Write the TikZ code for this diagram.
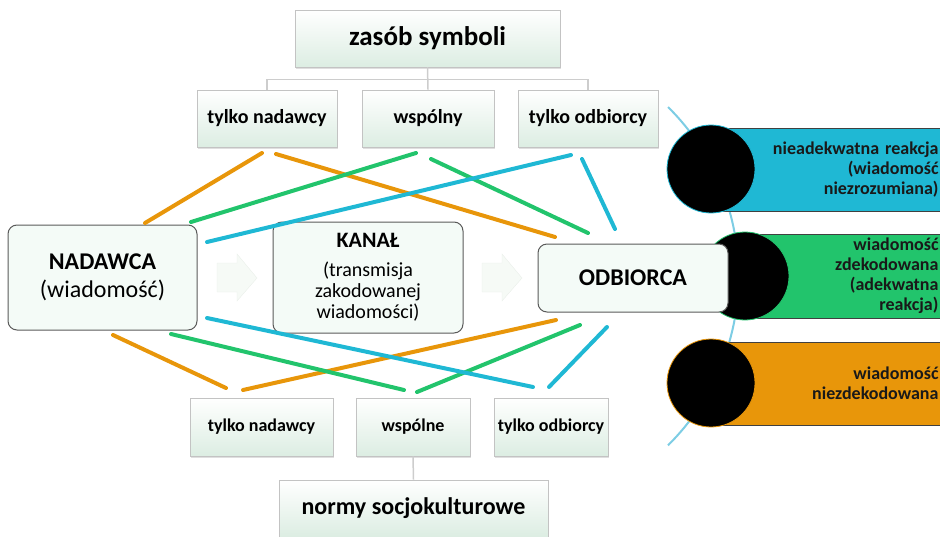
\documentclass[tikz,border=0pt]{standalone}
\usepackage{fontspec}
\setmainfont{Carlito}
\usetikzlibrary{shadows}
\definecolor{symcyan}{RGB}{31,184,212}
\definecolor{symgreen}{RGB}{34,196,108}
\definecolor{symorange}{RGB}{232,150,10}
\definecolor{boxbot}{RGB}{220,237,226}
\definecolor{boxline}{RGB}{195,195,195}
\definecolor{mainfill}{RGB}{244,251,247}
\definecolor{mainline}{RGB}{90,90,90}
\definecolor{treeline}{RGB}{205,205,205}
\definecolor{arcblue}{RGB}{125,205,228}
\definecolor{arrowfill}{RGB}{246,250,246}
\definecolor{arrowedge}{RGB}{234,239,234}

\begin{document}
\begin{tikzpicture}[x=1pt,y=-1pt,
  lvlbox/.style={draw=boxline, line width=0.8pt, top color=white, bottom color=boxbot,
    inner sep=0pt, align=center, text=black,
    drop shadow={shadow xshift=1pt, shadow yshift=-1.5pt, opacity=0.25}},
  mainbox/.style={draw=mainline, line width=1pt, fill=mainfill, rounded corners=9pt,
    inner sep=0pt, align=center},
  barbox/.style={draw={black!75}, line width=0.8pt, inner xsep=7pt, inner ysep=0pt,
    align=right, text=black!90, font=\bfseries\fontsize{18}{20}\selectfont},
  disc/.style={circle, fill=black, line width=0.8pt, minimum size=88pt, inner sep=0pt},
  link/.style={line width=4pt, line cap=round}]
\useasboundingbox (0,0) rectangle (940,536);

 % arc behind the outcomes
 \coordinate (arcA) at (668,107);
 \draw[arcblue, line width=2pt] (arcA) arc[start angle=-45.3, end angle=45.3, radius=238];

 % outcomes
 \node[barbox, fill=symcyan, minimum width=234pt, minimum height=83pt, text width=221pt]
   (bar1) at (828,169.5) {nieadekwatna reakcja\\(wiadomość\\niezrozumiana)};
 \node[barbox, fill=symgreen, minimum width=200pt, minimum height=84pt, text width=187pt]
   (bar2) at (845,276) {wiadomość\\zdekodowana\\(adekwatna\\reakcja)};
 \node[barbox, fill=symorange, minimum width=234pt, minimum height=83pt, text width=221pt]
   (bar3) at (828,383.5) {wiadomość\\niezdekodowana};
 \node[disc, draw=symcyan] (k1) at (711,169) {};
 \node[disc, draw=symgreen] (k2) at (745,276) {};
 \node[disc, draw=symorange] (k3) at (711,383) {};

 % zasob symboli
 \node[lvlbox, minimum width=265pt, minimum height=57pt, font=\bfseries\fontsize{27}{30}\selectfont]
   (zas) at (427.5,38.5) {zasób symboli};
 \node[lvlbox, minimum width=140pt, minimum height=57pt, font=\bfseries\fontsize{20}{24}\selectfont]
   (tn1) at (267,118.5) {tylko nadawcy};
 \node[lvlbox, minimum width=132pt, minimum height=57pt, font=\bfseries\fontsize{20}{24}\selectfont]
   (ws1) at (428,118.5) {wspólny};
 \node[lvlbox, minimum width=140pt, minimum height=57pt, font=\bfseries\fontsize{20}{24}\selectfont]
   (to1) at (588,118.5) {tylko odbiorcy};
 \draw[treeline, line width=1.5pt] (zas.south) -- ++(0,12) -| (tn1.north);
 \draw[treeline, line width=1.5pt] (zas.south) -- ++(0,12) -| (to1.north);
 \draw[treeline, line width=1.5pt] (zas.south) -- (ws1.north);

 % block arrows
 \fill[arrowfill, draw=arrowedge] (217,263) -- (237,263) -- (237,254) -- (257,278)
   -- (237,301) -- (237,292) -- (217,292) -- cycle;
 \fill[arrowfill, draw=arrowedge] (482,263) -- (502,263) -- (502,254) -- (522,278)
   -- (502,301) -- (502,292) -- (482,292) -- cycle;

 % chain
 \node[mainbox, minimum width=189pt, minimum height=105pt, font=\fontsize{24}{28}\selectfont]
   (nad) at (102.5,277.5) {\textbf{NADAWCA}\\(wiadomość)};
 \node[mainbox, minimum width=190pt, minimum height=111pt, font=\fontsize{20}{21}\selectfont]
   (kan) at (368,277.5) {{\bfseries\fontsize{22}{24}\selectfont KANAŁ}\\[8pt](transmisja\\zakodowanej\\wiadomości)};
 \node[mainbox, minimum width=190pt, minimum height=68pt, font=\bfseries\fontsize{24}{28}\selectfont]
   (odb) at (633,278) {ODBIORCA};

 % normy
 \node[lvlbox, minimum width=143pt, minimum height=58pt, font=\bfseries\fontsize{18}{22}\selectfont]
   (tn2) at (261.5,427) {tylko nadawcy};
 \node[lvlbox, minimum width=114pt, minimum height=58pt, font=\bfseries\fontsize{18}{22}\selectfont]
   (ws2) at (413,427) {wspólne};
 \node[lvlbox, minimum width=114pt, minimum height=58pt, font=\bfseries\fontsize{18}{22}\selectfont]
   (to2) at (551,427) {tylko odbiorcy};
 \node[lvlbox, minimum width=269pt, minimum height=57pt, font=\bfseries\fontsize{24}{28}\selectfont]
   (nor) at (413.5,508.5) {normy socjokulturowe};
 \draw[treeline, line width=1.5pt] (ws2.south) -- (nor.north);

 % orange
 \coordinate (oA) at (262,153);
 \coordinate (oB) at (145,223);
 \coordinate (oC) at (276,154);
 \coordinate (oD) at (555,237);
 \coordinate (oE) at (113,335);
 \coordinate (oF) at (226,388);
 \coordinate (oG) at (243,390);
 \coordinate (oH) at (556,320);
 \draw[link, symorange] (oA) -- (oB);
 \draw[link, symorange] (oC) -- (oD);
 \draw[link, symorange] (oE) -- (oF);
 \draw[link, symorange] (oG) -- (oH);

 % green
 \coordinate (gA) at (416,153);
 \coordinate (gB) at (191,222);
 \coordinate (gC) at (431,159);
 \coordinate (gD) at (588,233);
 \coordinate (gE) at (171,334);
 \coordinate (gF) at (404,390);
 \coordinate (gG) at (417,392);
 \coordinate (gH) at (580,325);
 \draw[link, symgreen] (gA) -- (gB);
 \draw[link, symgreen] (gC) -- (gD);
 \draw[link, symgreen] (gE) -- (gF);
 \draw[link, symgreen] (gG) -- (gH);

 % cyan
 \coordinate (cA) at (571,155);
 \coordinate (cB) at (207,242);
 \coordinate (cC) at (582,159);
 \coordinate (cD) at (615,229);
 \coordinate (cE) at (207,318);
 \coordinate (cF) at (533,387);
 \coordinate (cG) at (549,387);
 \coordinate (cH) at (607,327);
 \draw[link, symcyan] (cA) -- (cB);
 \draw[link, symcyan] (cC) -- (cD);
 \draw[link, symcyan] (cE) -- (cF);
 \draw[link, symcyan] (cG) -- (cH);
\end{tikzpicture}
\end{document}
